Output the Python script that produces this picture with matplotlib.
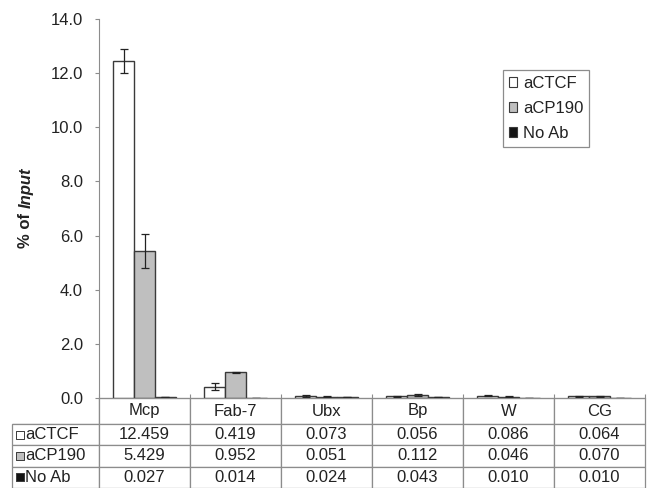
"""ChIP enrichment bar chart with data table underneath."""
import matplotlib

matplotlib.use("Agg")
import matplotlib.pyplot as plt
from matplotlib.patches import Patch

plt.rcParams["font.family"] = ["Liberation Sans", "DejaVu Sans"]
plt.rcParams["font.size"] = 12

regions = ["Mcp", "Fab-7", "Ubx", "Bp", "W", "CG"]
series = ["aCTCF", "aCP190", "No Ab"]
actcf = [12.459, 0.419, 0.073, 0.056, 0.086, 0.064]
acp190 = [5.429, 0.952, 0.051, 0.112, 0.046, 0.070]
no_ab = [0.027, 0.014, 0.024, 0.043, 0.010, 0.010]
actcf_err = [0.45, 0.12, 0.02, 0.015, 0.01, 0.01]
acp190_err = [0.62, 0.02, 0.015, 0.03, 0.01, 0.02]
no_ab_err = [0.005, 0.004, 0.005, 0.01, 0.003, 0.003]
yticks = [0.0, 2.0, 4.0, 6.0, 8.0, 10.0, 12.0, 14.0]

colors = ["white", "#bfbfbf", "#141414"]
edge = "#3a3a3a"
grid_col = "#8c8c8c"
txt_col = "#222222"

fig = plt.figure(figsize=(6.57, 4.88), dpi=100)
ax_h = 379
ax = fig.add_axes([99 / 657, 1 - 398 / 488, 546 / 657, ax_h / 488])

width = 0.228
values = [actcf, acp190, no_ab]
errors = [actcf_err, acp190_err, no_ab_err]
for k, (vals, errs) in enumerate(zip(values, errors)):
    xs = [i + (k - 1) * width for i in range(len(regions))]
    ax.bar(xs, vals, width, color=colors[k], edgecolor=edge, linewidth=1.0,
           yerr=errs, error_kw=dict(ecolor=txt_col, elinewidth=0.9, capsize=2.6, capthick=0.9))

ax.set_xlim(-0.5, len(regions) - 0.5)
ax.set_ylim(0, 14)
ax.set_yticks(yticks)
ax.set_yticklabels([f"{v:.1f}" for v in yticks])
# tick marks between categories, no labels (the table carries them)
ax.set_xticks([i - 0.5 for i in range(len(regions) + 1)])
ax.set_xticklabels([])
ax.tick_params(axis="x", direction="in", length=3, color=grid_col)
ax.tick_params(axis="y", direction="out", length=3, color=grid_col, pad=8.5, labelcolor=txt_col)
for s in ("top", "right"):
    ax.spines[s].set_visible(False)
ax.spines["left"].set_color(grid_col)
ax.spines["bottom"].set_color(grid_col)

# y label: "% of" bold + "Input" bold italic
t1 = ax.text(-0.134, 0.396, "% of ", transform=ax.transAxes, rotation=90,
             fontweight="bold", ha="center", va="bottom", color=txt_col)
ax.annotate("Input", xy=(0.5, 1.0), xycoords=t1, rotation=90, fontweight="bold",
            fontstyle="italic", ha="center", va="bottom", color=txt_col)

# legend
handles = [Patch(facecolor=c, edgecolor=edge, linewidth=0.8) for c in colors]
leg = ax.legend(handles, series, loc="upper left", bbox_to_anchor=(0.74, 0.865),
                borderaxespad=0, handlelength=0.5, handleheight=0.5, handletextpad=0.35,
                labelspacing=0.6, borderpad=0.35, fancybox=False, framealpha=1)
leg.get_frame().set_edgecolor(grid_col)
leg.get_frame().set_linewidth(0.9)
for t in leg.get_texts():
    t.set_color(txt_col)

# data table
head_h, row_h = 26, 64 / 3
cell_text = [[name] + [f"{v:.3f}" for v in vals] for name, vals in zip(series, values)]
col_w = [87 / 633] + [91 / 633] * len(regions)
tbl = ax.table(cellText=cell_text, colLabels=[""] + regions, colWidths=col_w,
               cellLoc="center", bbox=[-87 / 546, -90 / ax_h, 633 / 546, 90 / ax_h])
tbl.auto_set_font_size(False)
tbl.set_fontsize(12)
for (r, c), cell in tbl.get_celld().items():
    cell.set_height((head_h if r == 0 else row_h) / ax_h)
    cell.set_edgecolor(grid_col)
    cell.set_linewidth(0.9)
    cell.get_text().set_color(txt_col)
    if c == 0:
        cell.get_text().set_horizontalalignment("left")
        cell.PAD = 0.155
    if r == 0 and c == 0:
        cell.visible_edges = "BR"

# table legend markers
for k in range(len(series)):
    y = -(head_h + row_h * (k + 0.5)) / ax_h
    ax.scatter([-79 / 546], [y], marker="s", s=26, c=colors[k], edgecolors=edge,
               linewidths=0.7, transform=ax.transAxes, clip_on=False, zorder=5)

fig.savefig("out.png", dpi=100)
